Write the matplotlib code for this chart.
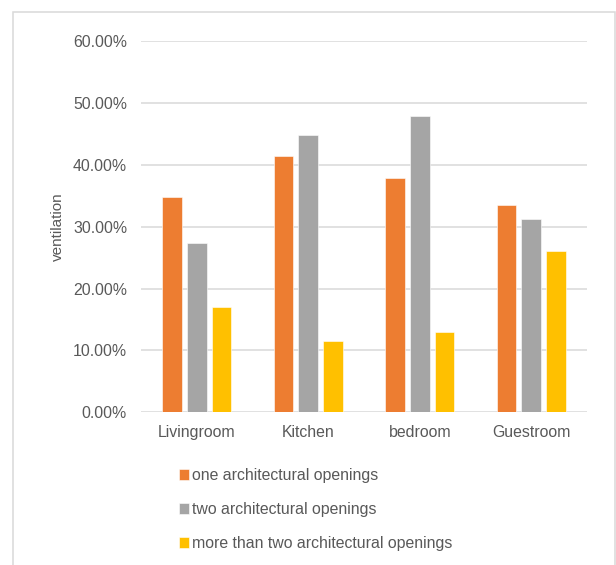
import matplotlib
matplotlib.use("Agg")
import matplotlib.pyplot as plt
import numpy as np
from matplotlib.patches import Rectangle
from matplotlib.ticker import FuncFormatter

categories = ["Livingroom", "Kitchen", "bedroom", "Guestroom"]
series_names = ["one architectural openings",
                "two architectural openings",
                "more than two architectural openings"]
one_openings = [0.348, 0.414, 0.378, 0.335]
two_openings = [0.274, 0.448, 0.479, 0.313]
more_openings = [0.170, 0.116, 0.130, 0.261]
colors = ["#ED7D31", "#A5A5A5", "#FFC000"]
yticks = [0.0, 0.1, 0.2, 0.3, 0.4, 0.5, 0.6]

plt.rcParams['font.family'] = ['Liberation Sans', 'DejaVu Sans']
txt = "#595959"
W, H = 616, 565
fig = plt.figure(figsize=(W / 100, H / 100), dpi=100)
ax = fig.add_axes([141 / W, (H - 412.3) / H, (587 - 141) / W, (412.3 - 41) / H])

x = np.arange(len(categories))
step = 0.2215
width = 0.176
for i, (vals, name, c) in enumerate(zip([one_openings, two_openings, more_openings], series_names, colors)):
    ax.bar(x + (i - 1) * step, vals, width, color=c, label=name, zorder=3,
           edgecolor="white", linewidth=0.4)

ax.set_xlim(-0.5, len(categories) - 0.5)
ax.set_ylim(0, 0.6)
ax.set_yticks(yticks)
ax.yaxis.set_major_formatter(FuncFormatter(lambda v, p: f"{v * 100:.2f}%"))
ax.set_xticks(x)
ax.set_xticklabels(categories)
ax.grid(axis='y', color="#D9D9D9", linewidth=1.1, zorder=0)
for s in ax.spines.values():
    s.set_visible(False)
ax.tick_params(axis='both', length=0, labelsize=11.4, colors=txt)
ax.tick_params(axis='y', pad=10)
ax.tick_params(axis='x', pad=9)
ax.set_ylabel("ventilation", fontsize=11, color=txt, labelpad=6)

leg = ax.legend(loc='upper left', bbox_to_anchor=(179 / W, (H - 468) / H),
                bbox_transform=fig.transFigure, frameon=False, fontsize=11.4,
                handlelength=0.62, handleheight=0.62, handletextpad=0.2,
                labelspacing=1.2, borderaxespad=0, borderpad=0)
for t in leg.get_texts():
    t.set_color(txt)

fig.patches.append(Rectangle((12.5 / W, -0.05), (615 - 12.5) / W, (H - 11.5) / H + 0.05,
                             transform=fig.transFigure, fill=False,
                             edgecolor="#D9D9D9", linewidth=1.1))

fig.savefig("out.png", dpi=100)
